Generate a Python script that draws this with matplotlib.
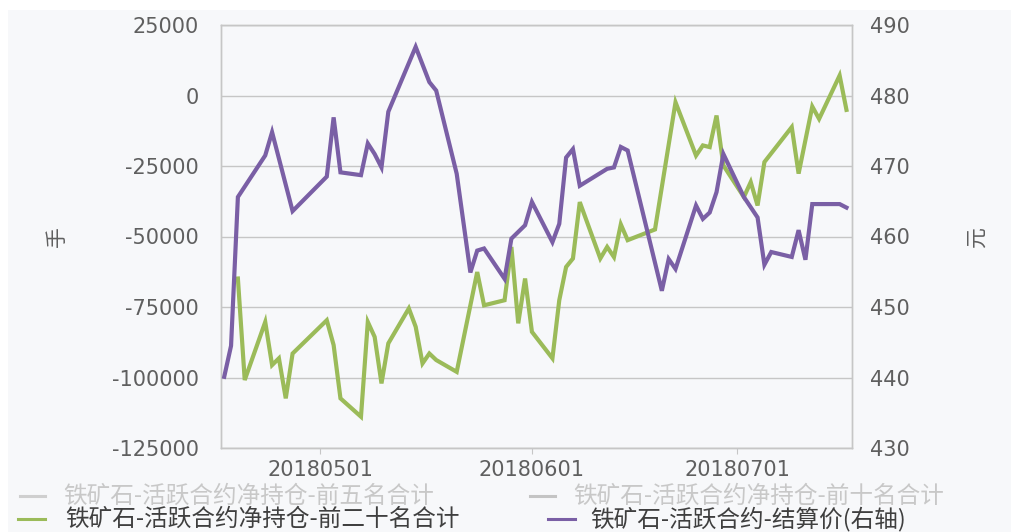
import matplotlib
matplotlib.use("Agg")
import matplotlib.pyplot as plt
import matplotlib.dates as mdates
from matplotlib.lines import Line2D
from matplotlib.patches import Rectangle
import numpy as np
import pandas as pd

plt.rcParams['font.family'] = ['DejaVu Sans', 'Noto Sans CJK SC']

# 前二十名合计 净持仓 (手), left axis
net20_dates = ['2018-04-19', '2018-04-20', '2018-04-23', '2018-04-24', '2018-04-25', '2018-04-26',
               '2018-04-27', '2018-05-02', '2018-05-03', '2018-05-04', '2018-05-07', '2018-05-08',
               '2018-05-09', '2018-05-10', '2018-05-11', '2018-05-14', '2018-05-15', '2018-05-16',
               '2018-05-17', '2018-05-18', '2018-05-21', '2018-05-24', '2018-05-25', '2018-05-28',
               '2018-05-29', '2018-05-30', '2018-05-31', '2018-06-01', '2018-06-04', '2018-06-05',
               '2018-06-06', '2018-06-07', '2018-06-08', '2018-06-11', '2018-06-12', '2018-06-13',
               '2018-06-14', '2018-06-15', '2018-06-19', '2018-06-22', '2018-06-25', '2018-06-26',
               '2018-06-27', '2018-06-28', '2018-06-29', '2018-07-02', '2018-07-03', '2018-07-04',
               '2018-07-05', '2018-07-09', '2018-07-10', '2018-07-12', '2018-07-13', '2018-07-16',
               '2018-07-17']
net20 = [-64900, -100900, -80300, -95600, -93200, -107400,
         -91500, -79700, -88500, -107400, -113900, -80300,
         -85600, -102100, -87900, -75500, -82000, -95000,
         -91500, -93800, -98000, -62600, -74400, -72600,
         -53700, -80800, -64900, -83800, -93200, -72600,
         -60800, -57800, -37800, -57800, -53700, -57300,
         -45700, -51300, -47500, -2400, -21300, -17700,
         -18300, -7100, -24800, -36000, -30700, -39000,
         -23600, -11200, -27700, -3900, -8300, 7100,
         -5100]

# 活跃合约 结算价 (元), right axis
price_dates = ['2018-04-17', '2018-04-18', '2018-04-19', '2018-04-23', '2018-04-24', '2018-04-27',
               '2018-05-02', '2018-05-03', '2018-05-04', '2018-05-07', '2018-05-08', '2018-05-09',
               '2018-05-10', '2018-05-11', '2018-05-15', '2018-05-17', '2018-05-18', '2018-05-21',
               '2018-05-23', '2018-05-24', '2018-05-25', '2018-05-28', '2018-05-29', '2018-05-31',
               '2018-06-01', '2018-06-04', '2018-06-05', '2018-06-06', '2018-06-07', '2018-06-08',
               '2018-06-12', '2018-06-13', '2018-06-14', '2018-06-15', '2018-06-20', '2018-06-21',
               '2018-06-22', '2018-06-25', '2018-06-26', '2018-06-27', '2018-06-28', '2018-06-29',
               '2018-07-02', '2018-07-04', '2018-07-05', '2018-07-06', '2018-07-09', '2018-07-10',
               '2018-07-11', '2018-07-12', '2018-07-16', '2018-07-17']
price = [440.1, 444.5, 465.6, 471.5, 474.8, 463.6,
         468.5, 476.9, 469.1, 468.7, 473.2, 471.7,
         469.8, 477.7, 486.9, 481.9, 480.7, 468.9,
         454.9, 458.0, 458.3, 454.0, 459.7, 461.6,
         464.9, 459.2, 461.8, 471.2, 472.4, 467.2,
         469.6, 469.8, 472.7, 472.2, 452.3, 456.8,
         455.4, 464.4, 462.5, 463.4, 466.3, 471.7,
         465.6, 462.7, 456.0, 457.8, 457.1, 460.9,
         456.7, 464.6, 464.6, 464.1]

xtick_dates = ['2018-05-01', '2018-06-01', '2018-07-01']
xtick_labels = ['20180501', '20180601', '20180701']
left_ticks = [-125000, -100000, -75000, -50000, -25000, 0, 25000]
right_ticks = [430, 440, 450, 460, 470, 480, 490]

legend_labels = ['铁矿石-活跃合约净持仓-前五名合计', '铁矿石-活跃合约净持仓-前十名合计',
                 '铁矿石-活跃合约净持仓-前二十名合计', '铁矿石-活跃合约-结算价(右轴)']

green = '#9bbb59'
purple = '#7a5fa5'
grey_txt = '#5f5f5f'
grid_c = '#c6c6c6'

W, H = 1012, 532
fig = plt.figure(figsize=(W / 100, H / 100), dpi=100, facecolor='white')
fig.patches.append(Rectangle((8 / W, 0), 1, 1 - 10 / H, transform=fig.transFigure,
                             facecolor='#f7f8fa', edgecolor='none', zorder=-10))

ax = fig.add_axes([221 / W, 1 - 448 / H, (852 - 221) / W, (448 - 25) / H])
ax.set_facecolor('none')
ax2 = ax.twinx()

d20 = pd.to_datetime(net20_dates)
dp = pd.to_datetime(price_dates)
ax.plot(d20, net20, color=green, lw=3.0, solid_joinstyle='miter', zorder=3)
ax2.plot(dp, price, color=purple, lw=3.0, solid_joinstyle='miter', zorder=3)

x0 = mdates.date2num(pd.Timestamp('2018-05-01')) - 14.47
x1 = mdates.date2num(pd.Timestamp('2018-07-01')) + 16.81
ax.set_xlim(x0, x1)
ax.set_ylim(-125000, 25000)
ax2.set_ylim(430, 490)

ax.set_yticks(left_ticks)
ax.set_yticklabels([str(v) for v in left_ticks])
ax2.set_yticks(right_ticks)
ax2.set_yticklabels([str(v) for v in right_ticks])
ax.set_xticks(pd.to_datetime(xtick_dates))
ax.set_xticklabels(xtick_labels)

ax.yaxis.grid(True, color=grid_c, lw=1)
ax.set_axisbelow(True)
for a in (ax, ax2):
    for s in a.spines.values():
        s.set_color(grid_c)
        s.set_linewidth(1)

ax.tick_params(axis='y', length=0, pad=16, labelsize=15, labelcolor=grey_txt)
ax2.tick_params(axis='y', length=0, pad=13, labelsize=15, labelcolor=grey_txt)
ax.tick_params(axis='x', length=4, color=grid_c, pad=5, labelsize=15, labelcolor=grey_txt)

ax.set_ylabel('手', fontsize=15, color=grey_txt, rotation=90)
ax.yaxis.set_label_coords((67 - 221) / 631, 0.5)
ax2.set_ylabel('元', fontsize=15, color=grey_txt, rotation=90)
ax2.yaxis.set_label_coords((967 - 221) / 631, 0.5)

# legend drawn by hand, two rows at the bottom
entries = [
    (20, 45, 63, 1 - 496 / H, legend_labels[0], '#cfcfcf', '#c8c8c8'),
    (530, 555, 573, 1 - 496 / H, legend_labels[1], '#c4c4c4', '#c8c8c8'),
    (18, 45, 65, 1 - 519 / H, legend_labels[2], green, '#3f3f3f'),
    (548, 575, 590, 1 - 519 / H, legend_labels[3], purple, '#3f3f3f'),
]
for xa, xb, xt, y, lab, lc, tc in entries:
    fig.add_artist(Line2D([xa / W, xb / W], [y, y], transform=fig.transFigure,
                          color=lc, lw=2.2))
    fig.text(xt / W, y, lab, fontsize=17, color=tc, va='center', ha='left',
             family=['Noto Sans CJK SC', 'DejaVu Sans'])

fig.savefig('out.png', dpi=100, facecolor=fig.get_facecolor())
